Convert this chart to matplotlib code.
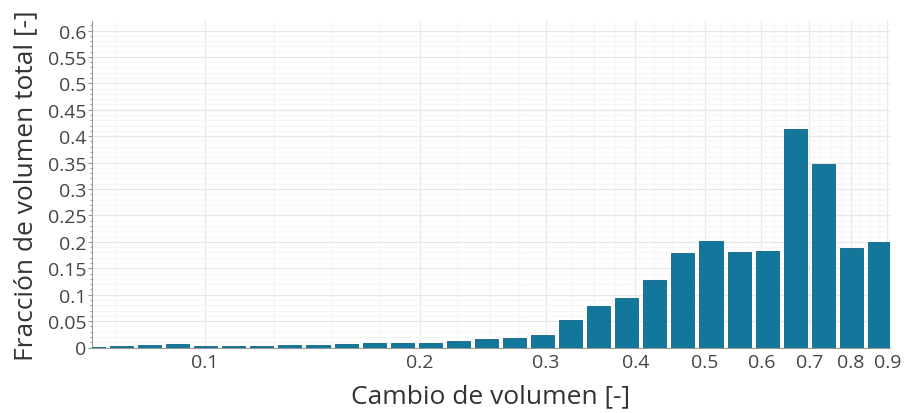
import matplotlib
matplotlib.use("Agg")
import matplotlib.pyplot as plt
import numpy as np
from matplotlib.ticker import FixedLocator, MultipleLocator, NullFormatter, FuncFormatter

plt.rcParams["font.family"] = ["Open Sans", "DejaVu Sans"]

# bin edges (log-spaced)
bin_edges = [0.06673, 0.07304, 0.07996, 0.08752, 0.09580, 0.10487, 0.11479,
             0.12565, 0.13754, 0.15055, 0.16480, 0.18039, 0.19746, 0.21615,
             0.23660, 0.25899, 0.28349, 0.31031, 0.33968, 0.37182, 0.40700,
             0.44551, 0.48766, 0.53380, 0.58431, 0.63960, 0.70012, 0.76636,
             0.83888, 0.91825]
volume_fraction = [0.001, 0.002, 0.004, 0.006, 0.003, 0.003, 0.002, 0.005,
                   0.005, 0.006, 0.009, 0.008, 0.009, 0.013, 0.016, 0.018,
                   0.024, 0.052, 0.079, 0.093, 0.128, 0.178, 0.202, 0.181,
                   0.183, 0.414, 0.347, 0.188, 0.200]
x_ticks = [0.1, 0.2, 0.3, 0.4, 0.5, 0.6, 0.7, 0.8, 0.9]
x_tick_labels = ["0.1", "0.2", "0.3", "0.4", "0.5", "0.6", "0.7", "0.8", "0.9"]

bar_color = "#13779b"
text_color = "#454545"

fig = plt.figure(figsize=(9.06, 4.14), dpi=100)
ax = fig.add_axes([92 / 906, 1 - 348.5 / 414, 798 / 906, 326.5 / 414])

edges = np.array(bin_edges)
gap = 10 ** 0.0035
left = edges[:-1] * gap
right = edges[1:] / gap
ax.bar(left, volume_fraction, width=right - left, align="edge",
       color=bar_color, edgecolor="#0f6585", linewidth=0.6, zorder=3)

ax.set_xscale("log")
ax.set_xlim(0.0695, 0.908)
ax.set_ylim(0, 0.618)

ax.xaxis.set_major_locator(FixedLocator(x_ticks))
ax.set_xticklabels(x_tick_labels)
minor_x = [v for v in np.arange(0.075, 0.9, 0.025) if round(v * 10, 6) % 1 != 0]
ax.xaxis.set_minor_locator(FixedLocator(minor_x))
ax.xaxis.set_minor_formatter(NullFormatter())

ax.yaxis.set_major_locator(MultipleLocator(0.05))
ax.yaxis.set_minor_locator(MultipleLocator(0.01))
ax.yaxis.set_major_formatter(FuncFormatter(lambda v, p: f"{v:g}" if abs(v) > 1e-9 else "0"))

ax.grid(which="major", color="#e8e8e8", linewidth=0.9, zorder=0)
ax.grid(which="minor", color="#f6f6f6", linewidth=0.8, zorder=0)

for s in ["top", "right"]:
    ax.spines[s].set_visible(False)
ax.spines["left"].set_color("#9a9a9a")
ax.spines["left"].set_linewidth(0.8)
ax.spines["bottom"].set_color("#9a9a9a")
ax.spines["bottom"].set_linewidth(0.8)

ax.tick_params(axis="x", which="both", length=0, pad=4, labelsize=14, labelcolor=text_color)
ax.tick_params(axis="y", which="major", length=3, width=0.8, color="#9a9a9a", pad=1,
               labelsize=14, labelcolor=text_color)
ax.tick_params(axis="y", which="minor", length=1.5, width=0.8, color="#9a9a9a")

ax.set_xlabel("Cambio de volumen [-]", fontsize=19, color="#333333", labelpad=9)
ax.set_ylabel("Fracción de volumen total [-]", fontsize=19, color="#333333", labelpad=7)

fig.savefig("out.png", dpi=100)
